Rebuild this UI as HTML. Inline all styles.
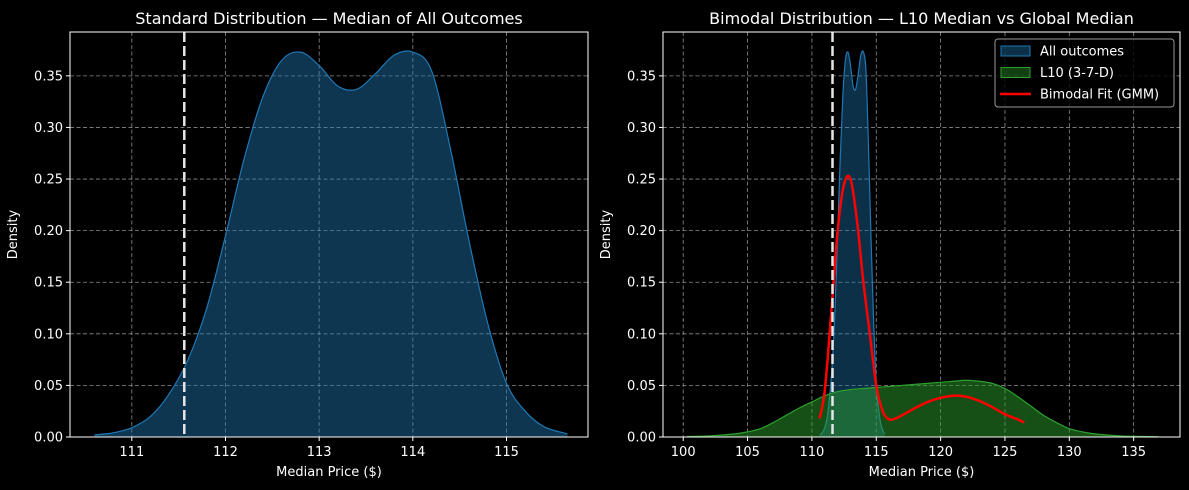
<!DOCTYPE html>
<html><head><meta charset="utf-8"><style>
html,body{margin:0;padding:0;background:#000;}
svg{display:block;font-family:"DejaVu Sans","Liberation Sans",sans-serif;}
</style></head><body>
<svg id="chart" width="1189" height="490" viewBox="0 0 1189 490">
<rect width="1189" height="490" fill="#000"/>
</svg>
<script>
// ---- data ----
const allX = [110.6,110.8,111.0,111.2,111.4,111.6,111.8,112.0,112.2,112.4,112.6,112.8,113.0,113.2,113.4,113.6,113.8,114.0,114.2,114.4,114.6,114.8,115.0,115.2,115.4,115.65];
const allY = [0.002,0.004,0.009,0.02,0.042,0.075,0.125,0.195,0.27,0.33,0.365,0.373,0.36,0.34,0.337,0.352,0.37,0.373,0.355,0.28,0.19,0.11,0.052,0.025,0.01,0.003];
const l10X = [100.3,102,104,105,106,107,108,109,110,111,112,113,114,115,116,118,120,121,122,123,124,125,126,127,128,129,130,131,132,134,136.9];
const l10Y = [0.0005,0.001,0.003,0.005,0.008,0.014,0.021,0.028,0.034,0.04,0.044,0.046,0.047,0.048,0.049,0.051,0.053,0.054,0.055,0.054,0.052,0.047,0.039,0.03,0.021,0.014,0.008,0.005,0.003,0.001,0.0003];
const gmmX = [110.6,111,111.5,112,112.5,113,113.5,114,114.5,115,115.5,116,116.5,117,118,119,120,121,122,123,124,125,126,126.5];
const gmmY = [0.018,0.045,0.12,0.2,0.245,0.25,0.21,0.15,0.1,0.05,0.025,0.017,0.018,0.021,0.028,0.034,0.038,0.04,0.039,0.035,0.029,0.022,0.017,0.014];
const yTicks = [0,0.05,0.1,0.15,0.2,0.25,0.3,0.35];
const leftXTicks = [111,112,113,114,115];
const rightXTicks = [100,105,110,115,120,125,130,135];
const leftMedian = 111.56;
const rightMedian = 111.6;

const NS="http://www.w3.org/2000/svg";
const svg=document.getElementById('chart');
function mk(tag,attrs,parent){const e=document.createElementNS(NS,tag);for(const k in attrs)e.setAttribute(k,attrs[k]);(parent||svg).appendChild(e);return e;}
function smooth(pts){let d='M'+pts[0][0]+','+pts[0][1];for(let i=0;i<pts.length-1;i++){const p0=pts[i-1]||pts[i],p1=pts[i],p2=pts[i+1],p3=pts[i+2]||p2;const c1x=p1[0]+(p2[0]-p0[0])/6,c1y=p1[1]+(p2[1]-p0[1])/6,c2x=p2[0]-(p3[0]-p1[0])/6,c2y=p2[1]-(p3[1]-p1[1])/6;d+=' C'+c1x+','+c1y+' '+c2x+','+c2y+' '+p2[0]+','+p2[1];}return d;}

function panel(cfg){
  const {L,R,T,B,xmin,xmax,ymax}=cfg;
  const sx=v=>L+(v-xmin)/(xmax-xmin)*(R-L);
  const sy=v=>B-v/ymax*(B-T);
  const g=mk('g',{});
  
  
  // grid
  cfg.xt.forEach(t=>{const l=mk('line',{x1:sx(t),x2:sx(t),y1:T,y2:B,stroke:'#bbb','stroke-width':0.8,'stroke-dasharray':'4,2.5',opacity:0.75},g);
    });
  yTicks.forEach(t=>{const l=mk('line',{x1:L,x2:R,y1:sy(t),y2:sy(t),stroke:'#bbb','stroke-width':0.8,'stroke-dasharray':'4,2.5',opacity:0.75},g);
    });
  // series
  cfg.series.forEach(s=>{
    const pts=s.x.map((v,i)=>[sx(v),sy(s.y[i])]);
    const d=smooth(pts);
    if(s.fill){const a=mk('path',{d:d+' L'+pts[pts.length-1][0]+','+B+' L'+pts[0][0]+','+B+' Z',fill:s.fill,'fill-opacity':s.fo},g);
      }
    const p=mk('path',{d:d,fill:'none',stroke:s.stroke,'stroke-width':s.sw},g);
    
  });
  // median line
  const m=mk('line',{x1:sx(cfg.median),x2:sx(cfg.median),y1:T,y2:B,stroke:'#e6e6e6','stroke-width':2.5,'stroke-dasharray':'10,4'},g);
  
  // frame
  const f=mk('rect',{x:L,y:T,width:R-L,height:B-T,fill:'none',stroke:'#fff','stroke-width':1},g);
  
  cfg.xt.forEach(t=>{mk('line',{x1:sx(t),x2:sx(t),y1:B,y2:B+4,stroke:'#fff'},g);
    const tx=mk('text',{x:sx(t),y:B+19,fill:'#fff','font-size':13,'text-anchor':'middle'},g);tx.textContent=t;
    });
  yTicks.forEach(t=>{mk('line',{x1:L-4,x2:L,y1:sy(t),y2:sy(t),stroke:'#fff'},g);
    const tx=mk('text',{x:L-7,y:sy(t)+4.5,fill:'#fff','font-size':13,'text-anchor':'end'},g);tx.textContent=t.toFixed(2);
    });
  const xl=mk('text',{x:(L+R)/2,y:476,fill:'#fff','font-size':13,'text-anchor':'middle'},g);xl.textContent='Median Price ($)';
  
  const yl=mk('text',{x:0,y:0,fill:'#fff','font-size':13,'text-anchor':'middle',transform:'translate('+(L-53)+','+((T+B)/2)+') rotate(-90)'},g);yl.textContent='Density';
  
  const ti=mk('text',{x:(L+R)/2,y:24,fill:'#fff','font-size':16,'text-anchor':'middle'},g);ti.textContent=cfg.title;
  
}

panel({name:'left-panel',L:70,R:588,T:32,B:437,xmin:110.34,xmax:115.87,ymax:0.3925,xt:leftXTicks,median:leftMedian,
  title:'Standard Distribution — Median of All Outcomes',
  series:[{name:'all-outcomes',x:allX,y:allY,fill:'#1f77b4',fo:0.45,stroke:'#1f77b4',sw:1.2}]});
panel({name:'right-panel',L:663,R:1180,T:32,B:437,xmin:98.43,xmax:138.6,ymax:0.3925,xt:rightXTicks,median:rightMedian,
  title:'Bimodal Distribution — L10 Median vs Global Median',
  series:[{name:'all-outcomes',x:allX,y:allY,fill:'#1f77b4',fo:0.4,stroke:'#1f77b4',sw:1.2},
          {name:'l10',x:l10X,y:l10Y,fill:'#2ca02c',fo:0.5,stroke:'#2ca02c',sw:1.2},
          {name:'gmm-fit',x:gmmX,y:gmmY,stroke:'#ff0000',sw:2.5}]});

// legend
const lg=mk('g',{});


mk('rect',{x:995,y:39,width:179,height:68,rx:3,fill:'#000','fill-opacity':0.8,stroke:'#999'},lg);
const items=[['All outcomes','#1f77b4','patch'],['L10 (3-7-D)','#2ca02c','patch'],['Bimodal Fit (GMM)','#ff0000','line']];
items.forEach((it,i)=>{const y=51+i*21.5;
  if(it[2]==='patch'){const r=mk('rect',{x:1001,y:y-5,width:29,height:10,fill:it[1],'fill-opacity':0.4,stroke:it[1]},lg);
    }
  else{const l=mk('line',{x1:1000,x2:1031,y1:y,y2:y,stroke:it[1],'stroke-width':2.5},lg);
    }
  const t=mk('text',{x:1040,y:y+4.5,fill:'#fff','font-size':13},lg);t.textContent=it[0];
  
});
</script>
</body></html>
